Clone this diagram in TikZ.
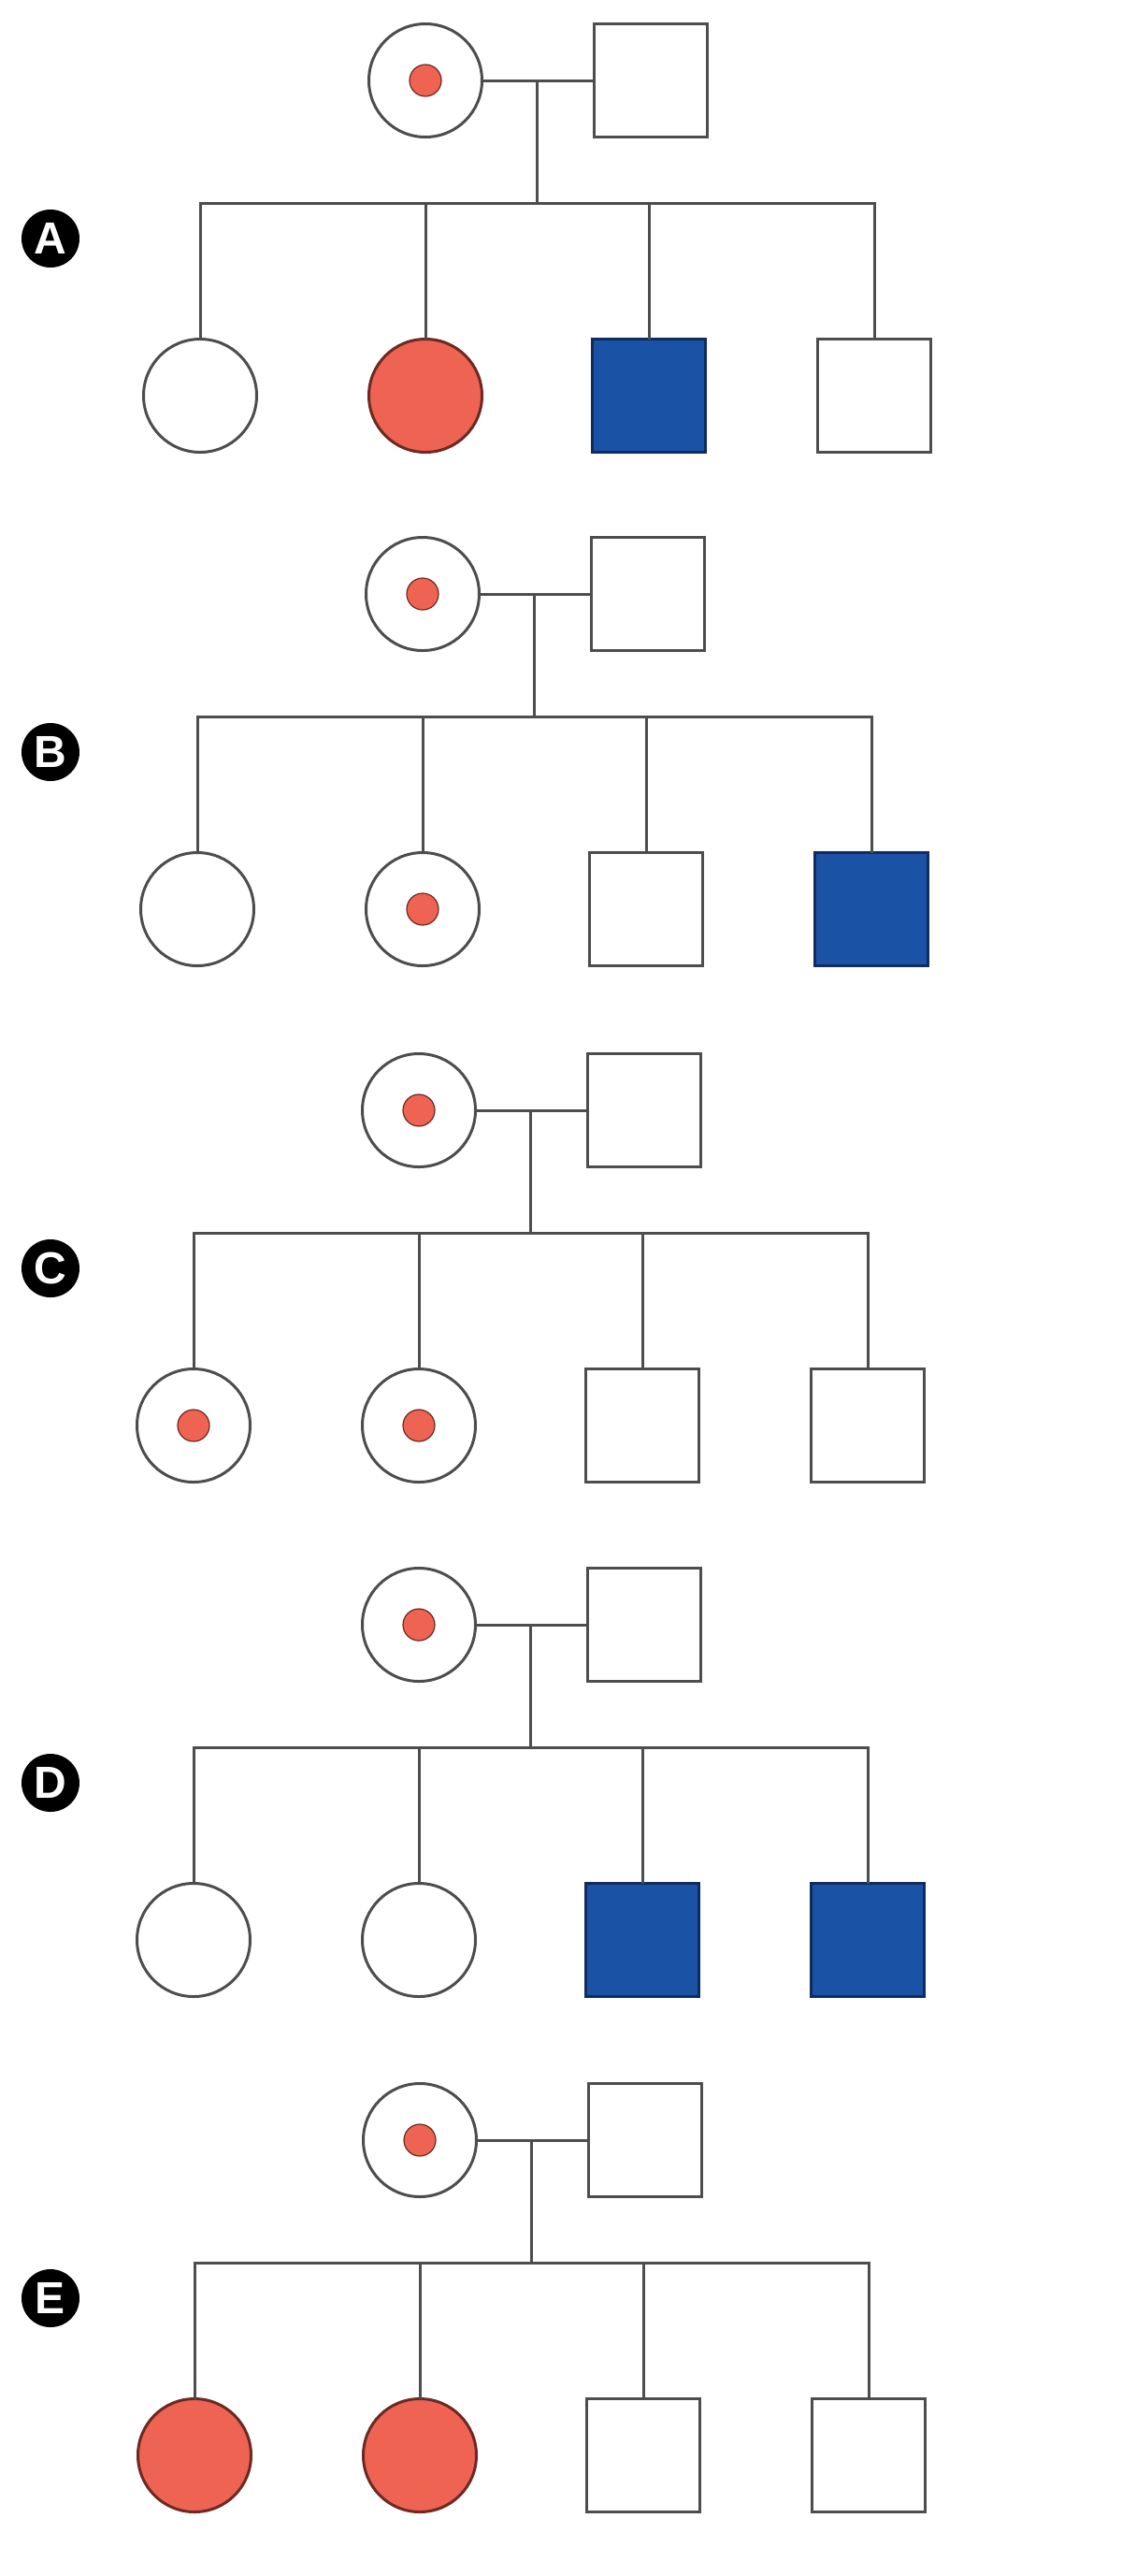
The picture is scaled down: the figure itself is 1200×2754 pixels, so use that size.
\documentclass[tikz,border=0pt]{standalone}
\usepackage{fontspec}
\setmainfont{Liberation Sans}
\definecolor{lin}{HTML}{4D4D4D}
\definecolor{aff}{HTML}{EE6352}
\definecolor{affline}{HTML}{6B2A22}
\definecolor{blu}{HTML}{1A52A5}
\definecolor{bluline}{HTML}{0E2D5E}
\tikzset{
 ind/.style={draw=lin, line width=1.5pt, minimum size=60.5pt, inner sep=0pt, outer sep=0pt, fill=white},
 fem/.style={ind, circle},
 mal/.style={ind, rectangle},
 carrier/.style={fem, path picture={\filldraw[fill=aff, draw=affline, line width=0.6pt] (path picture bounding box.center) circle (8.5pt);}},
 afffem/.style={fem, fill=aff, draw=affline},
 affmal/.style={mal, fill=blu, draw=bluline},
 conn/.style={draw=lin, line width=1.5pt, line join=miter},
 lab/.style={circle, fill=black, minimum size=31pt, inner sep=0pt, text=white, font=\fontsize{24}{24}\selectfont\bfseries},
}
\newcommand\pedpanel[8]{%
 \begin{scope}[shift={(#3,#2)}]
  \node[carrier] (#1m) at (455,0) {};
  \node[mal] (#1f) at (696,0) {};
  \coordinate (#1mid) at (574.5,0);
  \coordinate (#1sib) at (574.5,131);
  \coordinate (#1s1) at (214,131);
  \coordinate (#1s2) at (455,131);
  \coordinate (#1s3) at (694,131);
  \coordinate (#1s4) at (935,131);
  \node[#5] (#1c1) at (214,337) {};
  \node[#6] (#1c2) at (455,337) {};
  \node[#7] (#1c3) at (694,337) {};
  \node[#8] (#1c4) at (935,337) {};
 \end{scope}
 \draw[conn] (#1m) -- (#1f);
 \draw[conn] (#1mid) -- (#1sib);
 \draw[conn] (#1c1.north) -- (#1s1) -- (#1s4) -- (#1c4.north);
 \draw[conn] (#1s2) -- (#1c2.north);
 \draw[conn] (#1s3) -- (#1c3.north);
 \node[lab] (#1lab) at (54,{#2+169}) {#4};
}
\begin{document}
\begin{tikzpicture}[x=0.5pt,y=-0.5pt]
\useasboundingbox (0,0) rectangle (1200,2754);
\pedpanel{a}{86}{0}{A}{fem}{afffem}{affmal}{mal}
\pedpanel{b}{635}{-3}{B}{fem}{carrier}{mal}{affmal}
\pedpanel{c}{1187}{-7}{C}{carrier}{carrier}{mal}{mal}
\pedpanel{d}{1737}{-7}{D}{fem}{fem}{affmal}{affmal}
\pedpanel{e}{2288}{-6}{E}{afffem}{afffem}{mal}{mal}
\end{tikzpicture}
\end{document}
